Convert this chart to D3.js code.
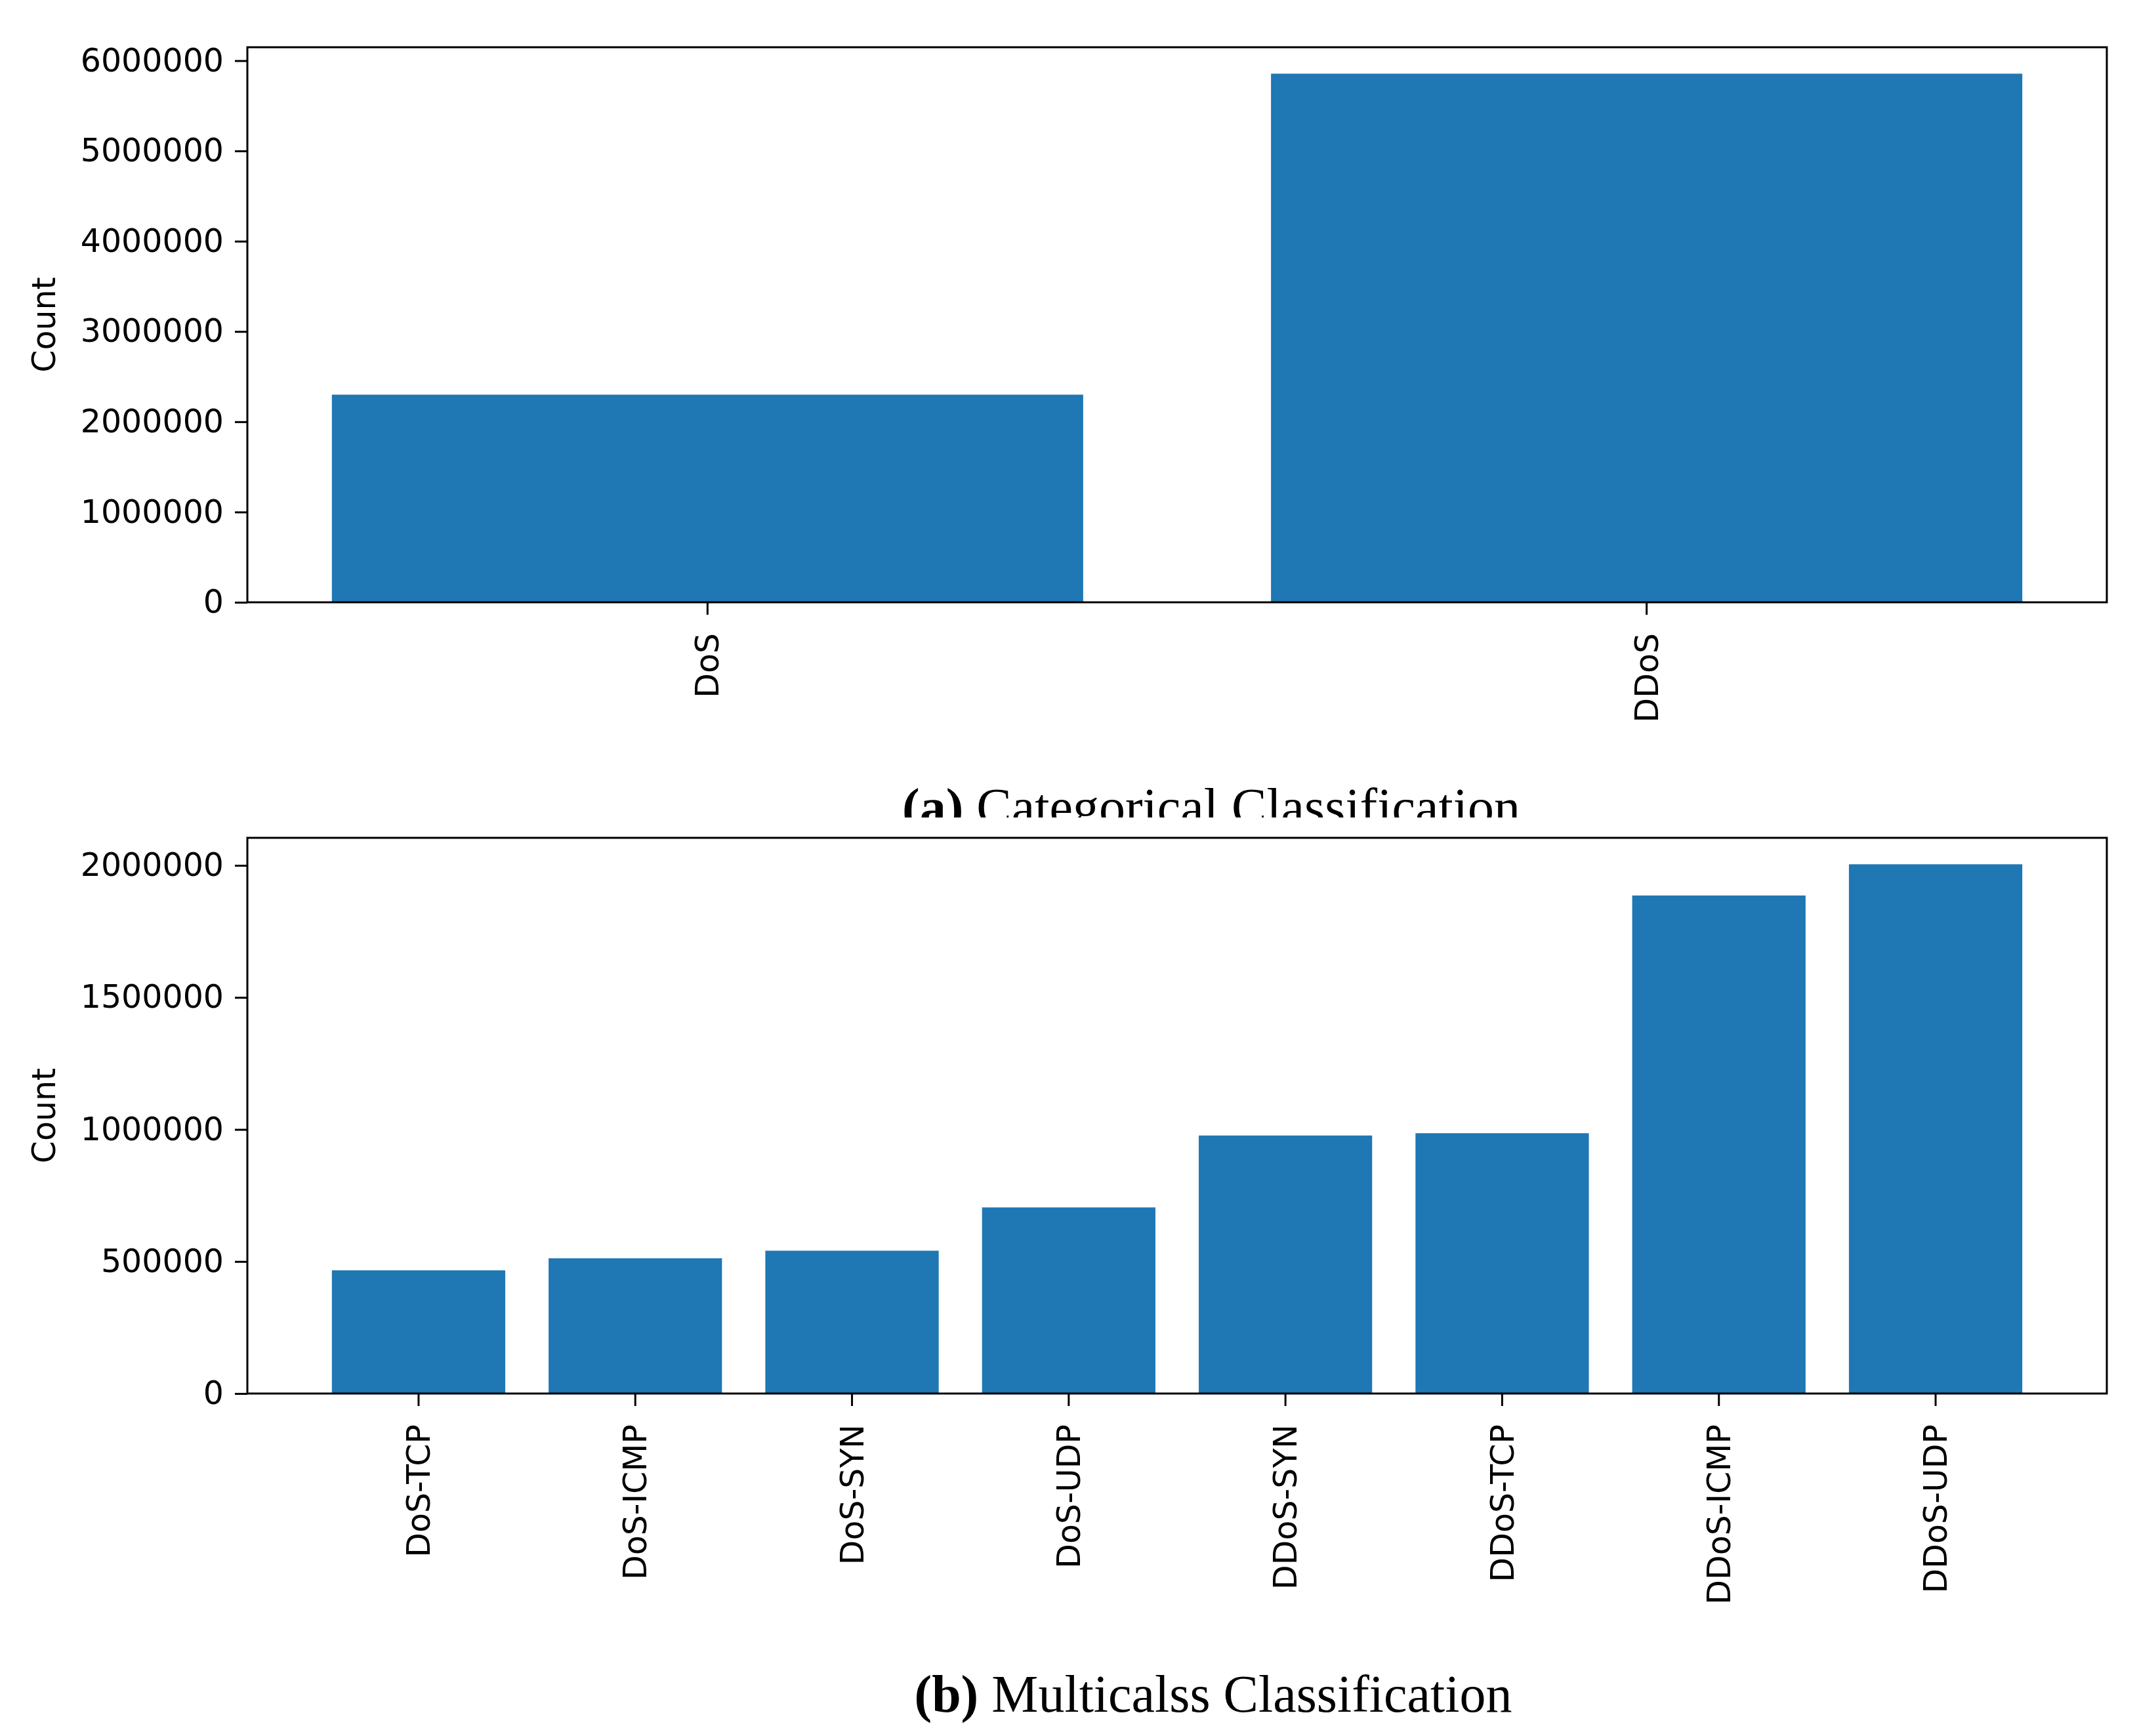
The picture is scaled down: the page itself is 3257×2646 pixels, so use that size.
<!DOCTYPE html>
<html>
<head>
<meta charset="utf-8">
<script src="https://cdn.jsdelivr.net/npm/d3@7"></script>
<style>
    body { margin: 0; background: #fff; }
    svg { display: block; }
</style>
</head>
<body>
<svg id="mySVG" width="3257" height="2646"></svg>
<script>
// panel (a): categorical
const catA = ["DoS", "DDoS"];
const valA = [2300000, 5856000];
const ticksA = [0, 1000000, 2000000, 3000000, 4000000, 5000000, 6000000];

// panel (b): multiclass
const catB = ["DoS-TCP", "DoS-ICMP", "DoS-SYN", "DoS-UDP", "DDoS-SYN", "DDoS-TCP", "DDoS-ICMP", "DDoS-UDP"];
const valB = [466500, 512200, 540800, 704800, 977100, 985800, 1886000, 2004200];
const ticksB = [0, 500000, 1000000, 1500000, 2000000];

const captionA = ["(a)", " Categorical Classification"];
const captionB = ["(b)", " Multicalss Classification"];

const W = 3257, H = 2646;
const fontSize = 49;
const tickLen = 19;

let svg = d3.select("#mySVG");
svg.append("rect").attr("width", W).attr("height", H).style("fill", "#fff");

function drawPanel(cats, vals, ticks, box) {
    let g = svg.append("g");
    let n = cats.length;

    // matplotlib-like: bar width 0.8, 5% margins
    let x = d3.scaleBand()
        .domain(cats)
        .range([box.left, box.right])
        .paddingInner(0.2)
        .paddingOuter(0.05 * (n - 0.2));

    let ymax = d3.max(vals) * 1.05;
    let y = d3.scaleLinear()
        .domain([0, ymax])
        .range([box.bottom, box.top]);

    g.selectAll(".bar")
        .data(vals)
        .join("rect")
        .classed("bar", true)
        .attr("x", (d, i) => x(cats[i]))
        .attr("width", x.bandwidth())
        .attr("y", d => y(d))
        .attr("height", d => y(0) - y(d))
        .style("fill", "#1f77b4");

    // frame
    g.append("rect")
        .attr("x", box.left)
        .attr("y", box.top)
        .attr("width", box.right - box.left)
        .attr("height", box.bottom - box.top)
        .style("fill", "none")
        .style("stroke", "#000")
        .style("stroke-width", 3);

    let yAxis = g.append("g")
        .attr("transform", `translate(${box.left},0)`)
        .call(d3.axisLeft(y).tickValues(ticks).tickFormat(d3.format("d"))
            .tickSize(tickLen).tickPadding(17));
    yAxis.select(".domain").remove();
    yAxis.selectAll("line").style("stroke", "#000").style("stroke-width", 3);
    yAxis.selectAll("text")
        .style("font-family", "DejaVu Sans")
        .style("font-size", fontSize + "px")
        .style("fill", "#000");

    let xAxis = g.append("g")
        .attr("transform", `translate(0,${box.bottom})`)
        .call(d3.axisBottom(x).tickSize(tickLen).tickPadding(0));
    xAxis.select(".domain").remove();
    xAxis.selectAll("line").style("stroke", "#000").style("stroke-width", 3);
    xAxis.selectAll("text")
        .attr("y", 0)
        .attr("dy", "0.35em")
        .attr("transform", `translate(0,${tickLen + 28}) rotate(-90)`)
        .attr("text-anchor", "end")
        .style("font-family", "DejaVu Sans")
        .style("font-size", fontSize + "px")
        .style("fill", "#000");

    g.append("text")
        .attr("transform", `translate(84,${(box.top + box.bottom) / 2}) rotate(-90)`)
        .attr("text-anchor", "middle")
        .style("font-family", "DejaVu Sans")
        .style("font-size", fontSize + "px")
        .style("fill", "#000")
        .text("Count");
}

function drawCaption(parts, cx, baseline, clipY) {
    let t = svg.append("text")
        .attr("x", cx)
        .attr("y", baseline)
        .attr("text-anchor", "middle")
        .style("font-family", "Liberation Serif")
        .style("font-size", "80px")
        .style("fill", "#000");
    t.append("tspan").style("font-weight", "bold").text(parts[0]);
    t.append("tspan").text(parts[1]);
    if (clipY != undefined) {
        let id = "clip" + Math.round(baseline);
        svg.append("clipPath").attr("id", id)
            .append("rect").attr("x", 0).attr("y", 0).attr("width", W).attr("height", clipY);
        t.attr("clip-path", `url(#${id})`);
    }
}

drawPanel(catA, valA, ticksA, {left: 377, right: 3211, top: 72, bottom: 918});
drawPanel(catB, valB, ticksB, {left: 377, right: 3211, top: 1277, bottom: 2124});

drawCaption(captionA, 1846, 1257, 1246);
drawCaption(captionB, 1849, 2609);
</script>
</body>
</html>
